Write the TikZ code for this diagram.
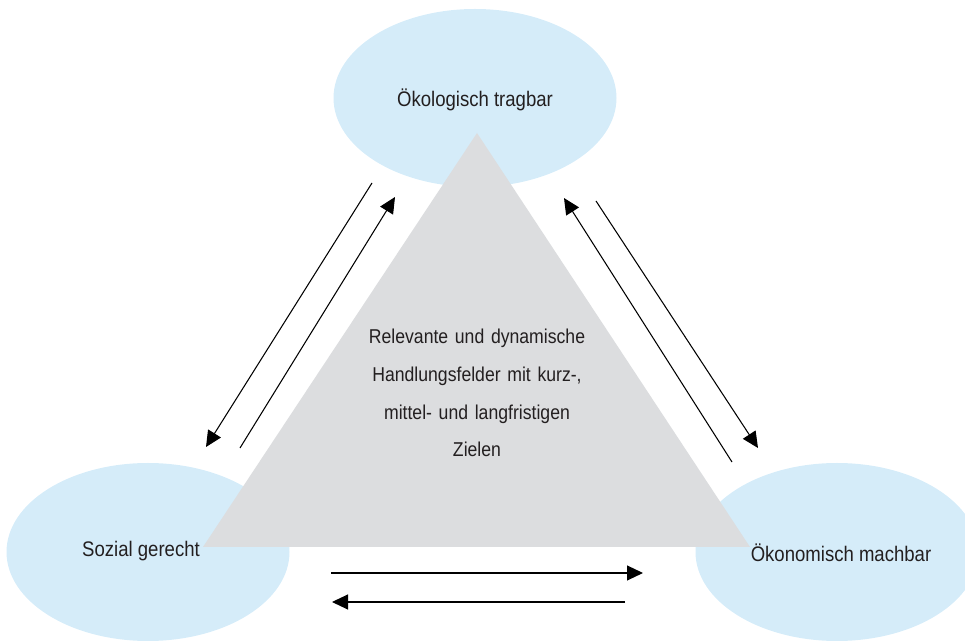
\documentclass[tikz,border=0pt]{standalone}
\usepackage{fontspec}
\setmainfont{Liberation Sans}[FakeStretch=0.88]
\usepackage{xcolor}
\usepackage{tikz}
\usetikzlibrary{shapes.geometric, arrows.meta, positioning}
\definecolor{mydark}{RGB}{35,31,32}
\definecolor{myblue}{RGB}{213,236,249}
\definecolor{mygrey}{RGB}{220,221,223}
\tikzset{
  goal/.style={ellipse, fill=myblue, minimum width=5.66cm, minimum height=3.56cm, inner sep=0pt},
  arrow/.style={-{Triangle[length=0.32cm, width=0.3cm]}, line width=0.6pt, color=black}
}

\begin{document}
\begin{tikzpicture}[
  lbl/.style={font=\fontsize{12}{14}\selectfont, text=mydark},
  mid/.style={font=\fontsize{11.4}{21.5}\selectfont, text=mydark, text width=6cm, align=center}
]
\useasboundingbox (0,0) rectangle (19.3,12.84);
%--- the three goals ---
\node[goal] (oeko) at (9.50,10.88) {};
\node[goal] (sozial) at (2.96,1.80) {};
\node[goal] (oekon) at (16.74,1.80) {};
% triangle in the middle
\coordinate (top) at (9.54,10.18);
\coordinate (left) at (4.06,1.90);
\coordinate (right) at (15.00,1.90);
\fill[mygrey] (top) -- (left) -- (right) -- cycle;
\node[lbl] (oekotxt) at (9.50,10.84) {Ökologisch tragbar};
\node[lbl] (sozialtxt) at (2.82,1.82) {Sozial gerecht};
\node[lbl] (oekontxt) at (16.82,1.78) {Ökonomisch machbar};
\node[mid] (ziele) at (9.54,4.98) {Relevante und dynamische\\Handlungsfelder mit kurz-,\\mittel- und langfristigen\\Zielen};

%--- arrows between the goals ---
\coordinate (a1) at (7.44,9.18);  \coordinate (b1) at (4.12,3.90);
\coordinate (a2) at (4.80,3.88);  \coordinate (b2) at (7.90,8.90);
\coordinate (a3) at (14.64,3.60); \coordinate (b3) at (11.28,8.88);
\coordinate (a4) at (11.92,8.82); \coordinate (b4) at (15.16,3.88);
\coordinate (a5) at (6.62,1.38);  \coordinate (b5) at (12.86,1.38);
\coordinate (a6) at (12.50,0.80); \coordinate (b6) at (6.64,0.80);
\foreach \i in {1,...,6} { \draw[arrow] (a\i) -- (b\i); }
\end{tikzpicture}
\end{document}
